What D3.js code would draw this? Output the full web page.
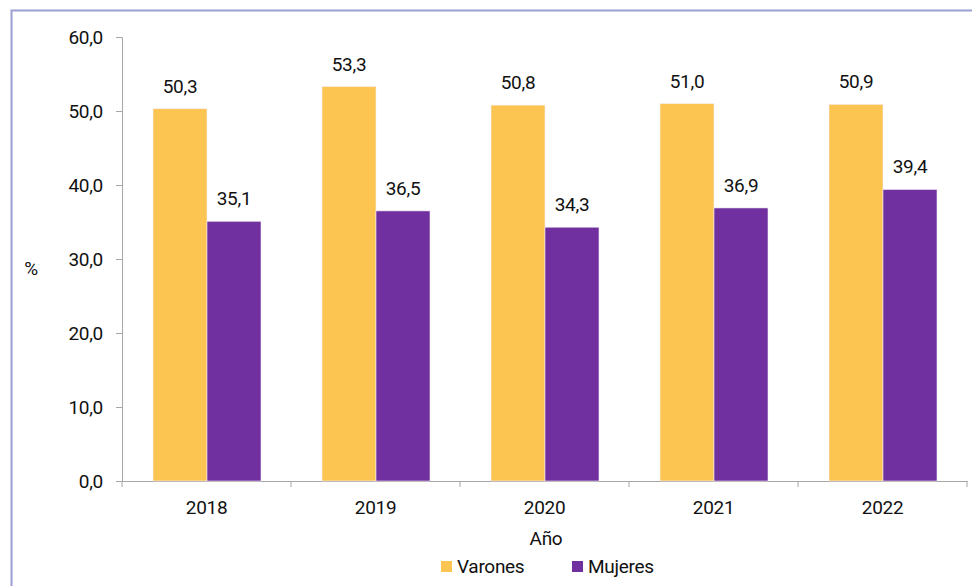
<!DOCTYPE html>
<html lang="es">
<head>
  <meta charset="UTF-8">
  <title>Varones y Mujeres por año</title>
  <script src="https://d3js.org/d3.v7.min.js"></script>
  <style>
    body { margin: 0; background: #fff; }
    svg text { font-family: Roboto, "Liberation Sans", sans-serif; fill: #111; letter-spacing: -0.3px; }
    .axis path, .axis line { stroke: #a6a6a6; }
  </style>
</head>
<body>
  <svg width="972" height="586"></svg>
  <script>
    const years = ["2018", "2019", "2020", "2021", "2022"];
    const varones = [50.3, 53.3, 50.8, 51.0, 50.9];
    const mujeres = [35.1, 36.5, 34.3, 36.9, 39.4];
    const yTicks = [0, 10, 20, 30, 40, 50, 60];
    const seriesNames = ["Varones", "Mujeres"];
    const colors = ["#fcc451", "#7030a0"];

    const svg = d3.select("svg");
    const fmt = v => d3.format(".1f")(v).replace(".", ",");

    // frame
    svg.append("path")
      .attr("d", "M11.5,600 V10.5 H980")
      .attr("fill", "none")
      .attr("stroke", "#9c9fd3")
      .attr("stroke-width", 2);

    const x = d3.scaleBand().domain(years).range([122, 967]);
    const y = d3.scaleLinear().domain([0, 60]).range([481, 37]);
    const inner = d3.scaleBand().domain(seriesNames).range([31, 139]);

    const yAxis = svg.append("g")
      .attr("class", "axis")
      .attr("transform", "translate(122,0)")
      .call(d3.axisLeft(y).tickValues(yTicks).tickSize(6).tickFormat(fmt));
    yAxis.selectAll("text").attr("font-size", 19).attr("x", -19).attr("dy", "0.35em");

    const xAxis = svg.append("g")
      .attr("class", "axis")
      .attr("transform", "translate(0,481)")
      .call(d3.axisBottom(x).tickSize(0).tickSizeOuter(0));
    xAxis.selectAll("text").attr("font-size", 19).attr("y", 33).attr("dy", 0);
    xAxis.selectAll(".tick line").remove();
    xAxis.selectAll(".bnd")
      .data(years.concat(["end"]))
      .enter().append("line")
      .attr("x1", (d, i) => 122 + i * x.step())
      .attr("x2", (d, i) => 122 + i * x.step())
      .attr("y1", 0).attr("y2", 6)
      .attr("stroke", "#a6a6a6");

    const data = [varones, mujeres];
    seriesNames.forEach((s, si) => {
      const g = svg.append("g");
      g.selectAll("rect")
        .data(years)
        .enter().append("rect")
        .attr("x", (d, i) => x(d) + inner(s))
        .attr("y", (d, i) => y(data[si][i]))
        .attr("width", inner.bandwidth())
        .attr("height", (d, i) => y(0) - y(data[si][i]))
        .attr("fill", colors[si])
        .attr("stroke", "#f3eef5")
        .attr("stroke-width", 0.6);
      g.selectAll("text")
        .data(years)
        .enter().append("text")
        .attr("x", (d, i) => x(d) + inner(s) + inner.bandwidth() / 2)
        .attr("y", (d, i) => y(data[si][i]) - 16)
        .attr("text-anchor", "middle")
        .attr("font-size", 19)
        .text((d, i) => fmt(data[si][i]));
    });

    svg.append("text").attr("x", 31).attr("y", 275)
      .attr("text-anchor", "middle").attr("font-size", 19).text("%");
    svg.append("text").attr("x", 546).attr("y", 545)
      .attr("text-anchor", "middle").attr("font-size", 19).text("Año");

    const legend = svg.append("g").attr("transform", "translate(441,561)");
    const lx = [0, 131];
    seriesNames.forEach((s, i) => {
      legend.append("rect").attr("x", lx[i]).attr("y", 0)
        .attr("width", 11).attr("height", 11).attr("fill", colors[i]);
      legend.append("text").attr("x", lx[i] + 16).attr("y", 12)
        .attr("font-size", 19).text(s);
    });
  </script>
</body>
</html>
